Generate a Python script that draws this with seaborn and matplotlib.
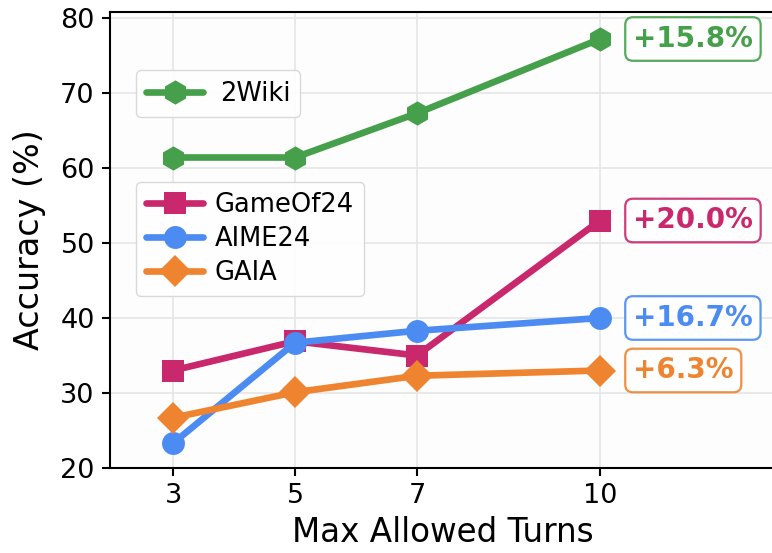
import matplotlib
matplotlib.use("Agg")
import matplotlib.pyplot as plt
import seaborn as sns
import pandas as pd

turns = [3, 5, 7, 10]
wiki2 = [61.4, 61.4, 67.3, 77.2]
game24 = [33.0, 36.9, 35.0, 53.0]
aime24 = [23.3, 36.7, 38.3, 40.0]
gaia = [26.7, 30.1, 32.3, 33.0]
gains = ["+15.8%", "+20.0%", "+16.7%", "+6.3%"]
names = ["2Wiki", "GameOf24", "AIME24", "GAIA"]

sns.set_theme(style="whitegrid")
plt.rcParams['font.family'] = ['DejaVu Sans']
plt.rcParams.update({"text.color": "black", "axes.labelcolor": "black",
                     "xtick.color": "black", "ytick.color": "black"})

colors = {"2Wiki": "#46a04b", "GameOf24": "#c9286d", "AIME24": "#4b8bf2", "GAIA": "#ef8430"}
markers = {"2Wiki": "h", "GameOf24": "s", "AIME24": "o", "GAIA": "D"}
msize = {"2Wiki": 17.5, "GameOf24": 16.5, "AIME24": 16.5, "GAIA": 16}
series = {"2Wiki": wiki2, "GameOf24": game24, "AIME24": aime24, "GAIA": gaia}

fig = plt.figure(figsize=(7.72, 5.53), dpi=100)
ax = fig.add_axes([110/772, 85/553, 666/772, 456/553])
ax.set_facecolor("#fdfdfd")

handles = {}
for n in names:
    df = pd.DataFrame({"turns": turns, "acc": series[n]})
    sns.lineplot(data=df, x="turns", y="acc", ax=ax, color=colors[n], marker=markers[n],
                 markersize=msize[n], markeredgewidth=0, linewidth=4.8, label=n, legend=False)
    handles[n] = ax.lines[-1]

for n, g in zip(names, gains):
    c = colors[n]
    ax.annotate(g, xy=(turns[-1], series[n][-1]), xytext=(33, 0), textcoords="offset pixels",
                ha="left", va="center", fontsize=20, fontweight="bold", color=c,
                bbox=dict(boxstyle="round,pad=0.28", fc="white", ec=c, lw=1.6, alpha=0.9),
                annotation_clip=False)

ax.set_xlim(1.967, 12.885)
ax.set_ylim(20, 80.8)
ax.set_xticks(turns)
ax.set_yticks([20, 30, 40, 50, 60, 70, 80])
ax.tick_params(axis="both", labelsize=19.5, length=6, width=1.5, color="black", direction="out",
               left=True, bottom=True, pad=5)
for s in ax.spines.values():
    s.set_color("black")
    s.set_linewidth(1.5)
ax.grid(True, color="#e6e6e6", linewidth=1.2)
ax.set_xlabel("Max Allowed Turns", fontsize=23.5, labelpad=5)
ax.set_ylabel("Accuracy (%)", fontsize=24, labelpad=10)

leg1 = ax.legend(handles=[handles["2Wiki"]], labels=["2Wiki"], loc="upper left",
                 bbox_to_anchor=(0.02, 0.90), fontsize=18.5, frameon=True, fancybox=True,
                 edgecolor="#d6d6d6", framealpha=0.9, handlelength=2.2, handletextpad=0.65)
ax.add_artist(leg1)
ax.legend(handles=[handles["GameOf24"], handles["AIME24"], handles["GAIA"]],
          labels=["GameOf24", "AIME24", "GAIA"], loc="upper left",
          bbox_to_anchor=(0.02, 0.655), fontsize=18.5, frameon=True, fancybox=True,
          edgecolor="#d6d6d6", framealpha=0.9, handlelength=2.2, labelspacing=0.3,
          handletextpad=0.45)

fig.savefig("out.png", dpi=100)
